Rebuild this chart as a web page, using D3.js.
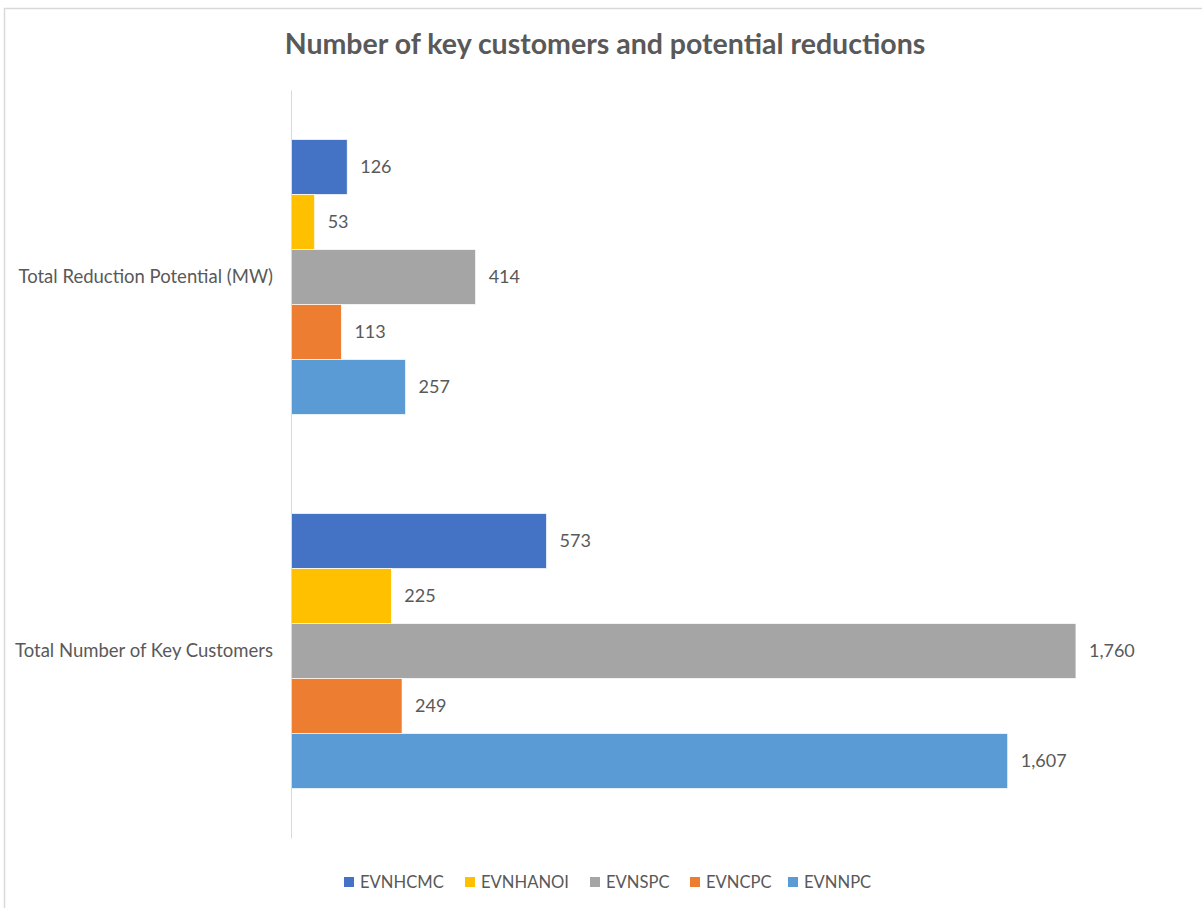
<!DOCTYPE html>
<html>
<head>
<meta charset="utf-8">
<script src="https://cdn.jsdelivr.net/npm/d3@7"></script>
<style>
  body { margin: 0; background: #fff; }
  text { font-family: Lato, "Open Sans", sans-serif; fill: #595959; }
</style>
</head>
<body>
<div class="graph"></div>
<script>
// categories top to bottom, series order within each group
const categories = ["Total Reduction Potential (MW)", "Total Number of Key Customers"];
const series = ["EVNHCMC", "EVNHANOI", "EVNSPC", "EVNCPC", "EVNNPC"];
const colors = ["#4472C4", "#FFC000", "#A5A5A5", "#ED7D31", "#5B9BD5"];
// values per category, same order as series
const reductionMW = [126, 53, 414, 113, 257];
const keyCustomers = [573, 225, 1760, 249, 1607];
const axisMax = 2000;

const W = 1202, H = 908;
const svg = d3.select(".graph").append("svg")
  .attr("width", W).attr("height", H);

// chart frame
svg.append("rect")
  .attr("x", 4.5).attr("y", 8.5)
  .attr("width", W + 10).attr("height", H + 10)
  .attr("fill", "none").attr("stroke", "#d9d9d9").attr("stroke-width", 1.5);

svg.append("text")
  .attr("x", 605).attr("y", 54)
  .attr("text-anchor", "middle")
  .attr("font-size", 28.5).attr("font-weight", "bold")
  .text("Number of key customers and potential reductions");

const x = d3.scaleLinear().domain([0, axisMax]).range([291, 291 + 892]);
const y0 = d3.scaleBand().domain(categories).range([90, 838]);
const y1 = d3.scaleBand().domain(series).range([0, y0.bandwidth()]).paddingOuter(0.9);

const rows = categories.map(function(c, i){
  let vals = i == 0 ? reductionMW : keyCustomers;
  return { cat: c, vals: series.map(function(s, j){ return { s: s, v: vals[j], c: colors[j] }; }) };
});

const groups = svg.selectAll("g.grp").data(rows).enter().append("g")
  .attr("class", "grp")
  .attr("transform", d => "translate(0," + y0(d.cat) + ")");

groups.selectAll("rect").data(d => d.vals).enter().append("rect")
  .attr("x", x(0))
  .attr("y", d => y1(d.s))
  .attr("width", d => x(d.v) - x(0))
  .attr("height", y1.bandwidth())
  .attr("fill", d => d.c)
  .attr("stroke", "#fff").attr("stroke-width", 0.7);

groups.selectAll("text.val").data(d => d.vals).enter().append("text")
  .attr("class", "val")
  .attr("x", d => x(d.v) + 13)
  .attr("y", d => y1(d.s) + y1.bandwidth() / 2)
  .attr("dy", "0.35em")
  .attr("font-size", 18)
  .text(d => d3.format(",")(d.v));

// category axis
const yAxis = svg.append("g")
  .attr("transform", "translate(" + x(0) + ",0)")
  .call(d3.axisLeft(y0).tickSize(0).tickPadding(18));
yAxis.select(".domain").attr("stroke", "#d9d9d9");
yAxis.selectAll("text").attr("font-size", 18.5).attr("fill", "#595959")
  .style("font-family", "Lato, 'Open Sans', sans-serif");

// legend
const legendX = [344, 465, 590, 690, 788];
const leg = svg.selectAll("g.leg").data(series).enter().append("g")
  .attr("class", "leg")
  .attr("transform", (d, i) => "translate(" + legendX[i] + ",882)");
leg.append("rect").attr("x", 0).attr("y", -5).attr("width", 10).attr("height", 10)
  .attr("fill", (d, i) => colors[i]);
leg.append("text").attr("x", 16).attr("dy", "0.35em").attr("font-size", 16.6).text(d => d);
</script>
</body>
</html>
